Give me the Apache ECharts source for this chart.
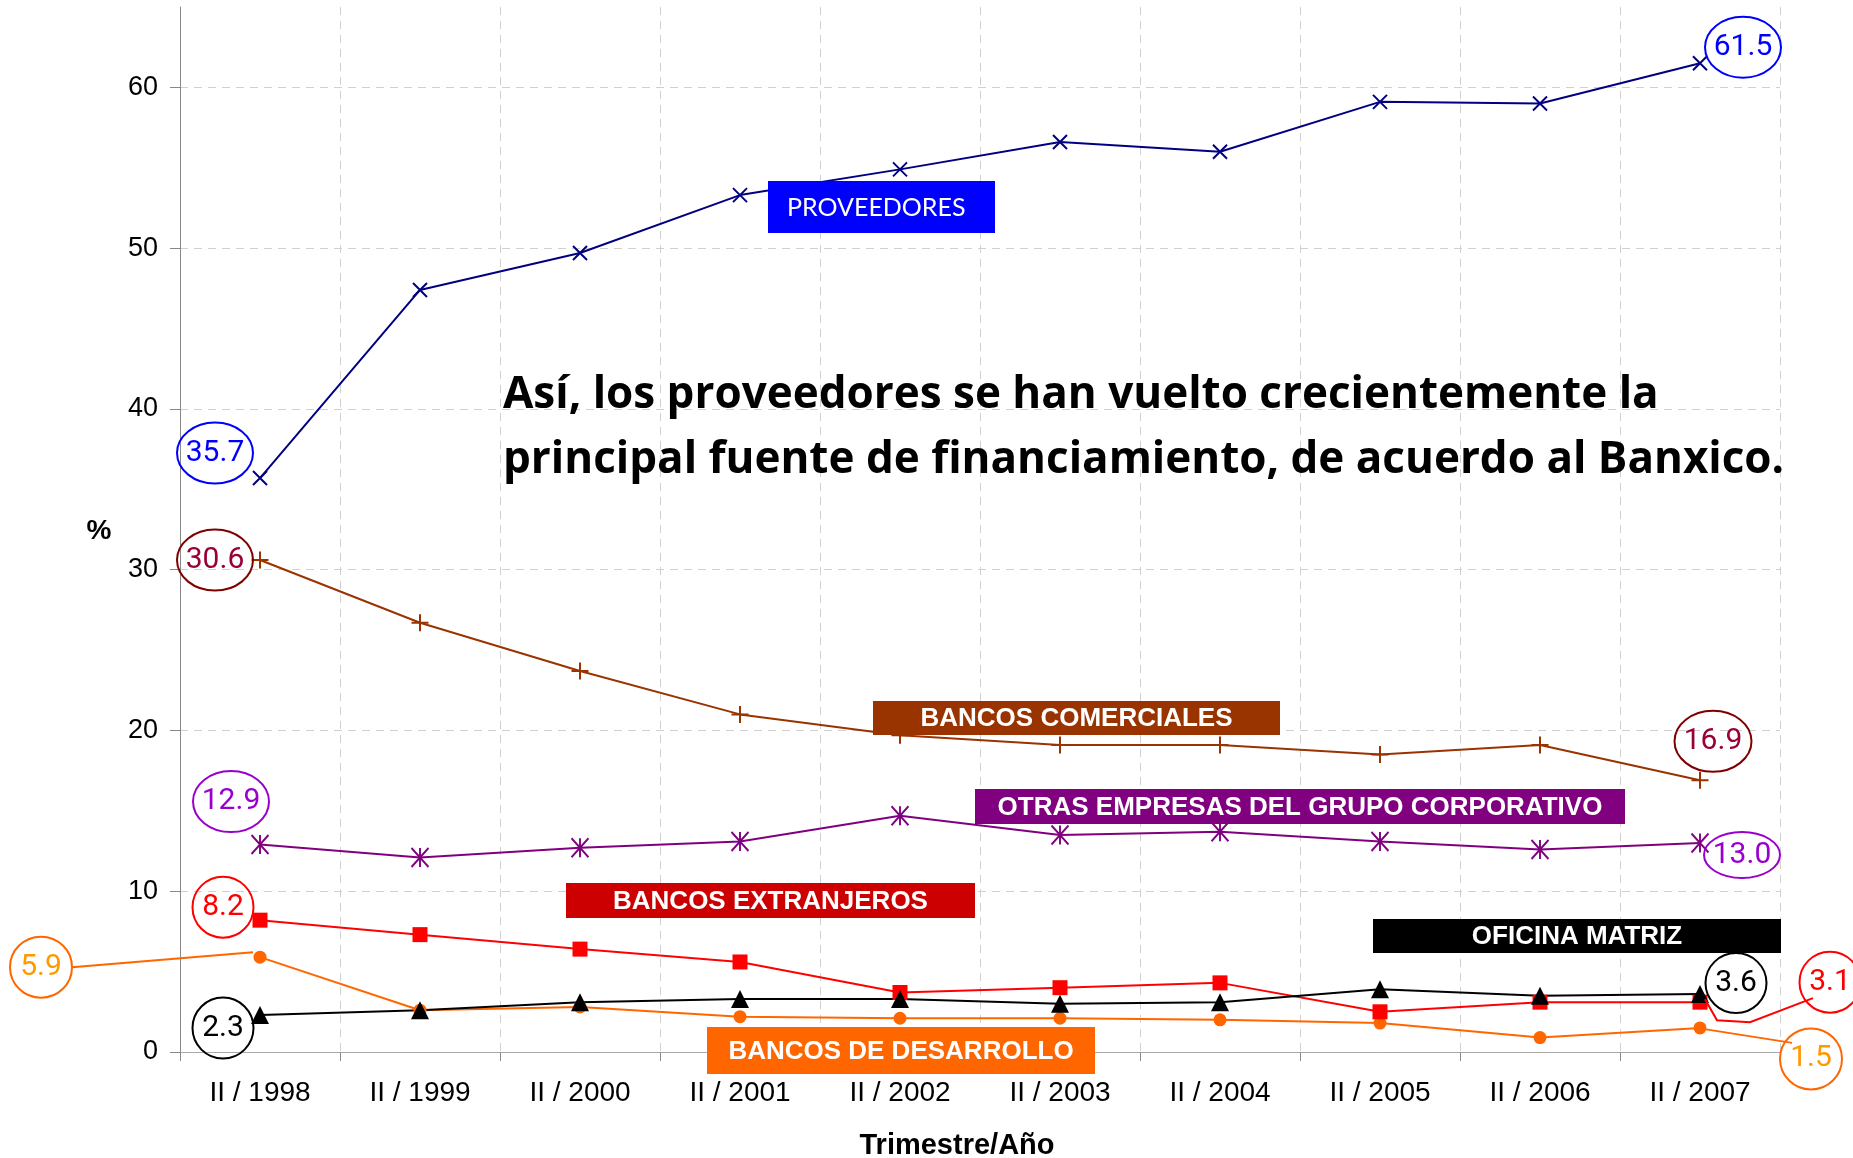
<!DOCTYPE html>
<html>
<head>
<meta charset="utf-8">
<script src="https://cdn.jsdelivr.net/npm/echarts@6/dist/echarts.min.js"></script>
<style>
html, body { margin: 0; padding: 0; background: #fff; }
#main { width: 1853px; height: 1158px; }
</style>
</head>
<body>
<div id="main"></div>
<script>
// datos (% del financiamiento total), lectura de la gráfica
const categories = ['II / 1998', 'II / 1999', 'II / 2000', 'II / 2001', 'II / 2002',
                    'II / 2003', 'II / 2004', 'II / 2005', 'II / 2006', 'II / 2007'];
const proveedores       = [35.7, 47.4, 49.7, 53.3, 54.9, 56.6, 56.0, 59.1, 59.0, 61.5];
const bancosComerciales = [30.6, 26.7, 23.7, 21.0, 19.7, 19.1, 19.1, 18.5, 19.1, 16.9];
const otrasEmpresas     = [12.9, 12.1, 12.7, 13.1, 14.7, 13.5, 13.7, 13.1, 12.6, 13.0];
const bancosExtranjeros = [8.2, 7.3, 6.4, 5.6, 3.7, 4.0, 4.3, 2.5, 3.1, 3.1];
const oficinaMatriz     = [2.3, 2.6, 3.1, 3.3, 3.3, 3.0, 3.1, 3.9, 3.5, 3.6];
const bancosDesarrollo  = [5.9, 2.6, 2.8, 2.2, 2.1, 2.1, 2.0, 1.8, 0.9, 1.5];
const yTicks = [0, 10, 20, 30, 40, 50, 60];

const chart = echarts.init(document.getElementById('main'));

const LINE_SYM = {
  x: 'path://M0,0L10,10M10,0L0,10',
  plus: 'path://M6,0L6,12M0,6L12,6',
  star: 'path://M0,0L10,12M10,0L0,12M5,0L5,12'
};

function serie(name, data, color, symbol, size, stroked) {
  return {
    name: name,
    type: 'line',
    data: data,
    symbol: symbol,
    symbolSize: size,
    lineStyle: { color: color, width: 2 },
    itemStyle: stroked
      ? { color: 'rgba(0,0,0,0)', borderColor: color, borderWidth: 2 }
      : { color: color },
    emphasis: { disabled: true }
  };
}

const gridColors = ['#d0d0d0', '#d0d0d0', '#d0d0d0', '#d0d0d0', '#d0d0d0', '#d0d0d0', '#d0d0d0', 'rgba(0,0,0,0)'];

chart.setOption({
  animation: false,
  backgroundColor: '#fff',
  grid: { left: 180, right: 73, top: 7, bottom: 106 },
  xAxis: {
    type: 'category',
    data: categories,
    boundaryGap: true,
    axisLine: { lineStyle: { color: '#aaa', width: 1 } },
    axisTick: { show: true, length: 9, lineStyle: { color: '#888' } },
    axisLabel: { color: '#000', fontSize: 28, fontFamily: 'Liberation Sans', margin: 27 },
    splitLine: { show: true, lineStyle: { color: '#d0d0d0', type: [8, 6], width: 1 } }
  },
  yAxis: {
    type: 'value',
    min: 0,
    max: 65,
    interval: 10,
    axisLine: { show: true, lineStyle: { color: '#888', width: 1 } },
    axisTick: { show: true, length: 10, lineStyle: { color: '#888' }, customValues: yTicks },
    axisLabel: { color: '#000', fontSize: 27, fontFamily: 'Liberation Sans', margin: 22, customValues: yTicks },
    splitLine: { show: true, lineStyle: { color: gridColors, type: [8, 6], width: 1 } }
  },
  series: [
    serie('PROVEEDORES', proveedores, '#000080', LINE_SYM.x, 14, true),
    serie('BANCOS COMERCIALES', bancosComerciales, '#993300', LINE_SYM.plus, 17, true),
    serie('OTRAS EMPRESAS DEL GRUPO CORPORATIVO', otrasEmpresas, '#800080', LINE_SYM.star, [17, 19], true),
    serie('BANCOS DE DESARROLLO', bancosDesarrollo, '#FF6600', 'circle', 13, false),
    serie('BANCOS EXTRANJEROS', bancosExtranjeros, '#FF0000', 'rect', 15, false),
    serie('OFICINA MATRIZ', oficinaMatriz, '#000000', 'triangle', 18, false)
  ]
});

// etiquetas de color
const boxes = [
  { text: 'PROVEEDORES', x: 768, y: 181, w: 227, h: 52, fill: '#0000FF', font: 'normal 25px Lato', left: 19 },
  { text: 'BANCOS COMERCIALES', x: 873, y: 701, w: 407, h: 34, fill: '#993300' },
  { text: 'OTRAS EMPRESAS DEL GRUPO CORPORATIVO', x: 975, y: 789, w: 650, h: 35, fill: '#800080' },
  { text: 'BANCOS EXTRANJEROS', x: 566, y: 883, w: 409, h: 35, fill: '#CC0000' },
  { text: 'OFICINA MATRIZ', x: 1373, y: 919, w: 408, h: 34, fill: '#000000' },
  { text: 'BANCOS DE DESARROLLO', x: 707, y: 1027, w: 388, h: 47, fill: '#FF6600' }
];

// valores encerrados en elipses (dx, dy respecto al punto)
const seriesData = [proveedores, bancosComerciales, otrasEmpresas, bancosDesarrollo, bancosExtranjeros, oficinaMatriz];
const callouts = [
  { s: 0, i: 0, dx: -45, dy: -25, w: 76, h: 61, stroke: '#0000FF', color: '#0000FF' },
  { s: 0, i: 9, dx: 43, dy: -16, w: 76, h: 61, stroke: '#0000FF', color: '#0000FF' },
  { s: 1, i: 0, dx: -45, dy: 0, w: 76, h: 61, stroke: '#800000', color: '#990033' },
  { s: 1, i: 9, dx: 13, dy: -39, w: 77, h: 61, stroke: '#800000', color: '#990033' },
  { s: 2, i: 0, dx: -29, dy: -43, w: 76, h: 61, stroke: '#9900CC', color: '#9900CC' },
  { s: 2, i: 9, dx: 42, dy: 12, w: 76, h: 46, stroke: '#9900CC', color: '#9900CC' },
  { s: 4, i: 0, dx: -37, dy: -13, w: 61, h: 61, stroke: '#FF0000', color: '#FF0000' },
  { s: 4, i: 9, dx: 130, dy: -20, w: 61, h: 61, stroke: '#FF0000', color: '#FF0000',
    leader: [[5, -3], [17, 18], [50, 20], [113, -4]] },
  { s: 5, i: 0, dx: -37, dy: 13, w: 61, h: 61, stroke: '#000000', color: '#000000' },
  { s: 5, i: 9, dx: 36, dy: -11, w: 61, h: 60, stroke: '#000000', color: '#000000' },
  { s: 3, i: 0, dx: -219, dy: 10, w: 62, h: 61, stroke: '#FF6600', color: '#FF9900',
    leader: [[-188, 10], [-7, -5]] },
  { s: 3, i: 9, dx: 111, dy: 31, w: 62, h: 61, stroke: '#FF6600', color: '#FF9900',
    leader: [[3, 1], [92, 15]] }
];

const graphic = [];

callouts.forEach(function (c) {
  const v = seriesData[c.s][c.i];
  const p = chart.convertToPixel({ xAxisIndex: 0, yAxisIndex: 0 }, [categories[c.i], v]);
  const cx = p[0] + c.dx, cy = p[1] + c.dy;
  if (c.leader) {
    graphic.push({
      type: 'polyline', z: 50,
      shape: { points: c.leader.map(function (d) { return [p[0] + d[0], p[1] + d[1]]; }) },
      style: { stroke: c.stroke, lineWidth: 2, fill: null }
    });
  }
  graphic.push({
    type: 'ellipse', z: 50,
    shape: { cx: cx, cy: cy, rx: c.w / 2, ry: c.h / 2 },
    style: { fill: null, stroke: c.stroke, lineWidth: 2 }
  });
  graphic.push({
    type: 'text', z: 51, x: cx, y: cy,
    style: { text: v.toFixed(1), fill: c.color, font: 'normal 30px Roboto', align: 'center', verticalAlign: 'middle' }
  });
});

boxes.forEach(function (b) {
  graphic.push({
    type: 'rect', z: 60,
    shape: { x: b.x, y: b.y, width: b.w, height: b.h },
    style: { fill: b.fill }
  });
  graphic.push({
    type: 'text', z: 61,
    x: b.left ? b.x + b.left : b.x + b.w / 2,
    y: b.y + b.h / 2 + 1,
    style: {
      text: b.text, fill: '#fff',
      font: b.font || 'bold 26px "Liberation Sans"',
      align: b.left ? 'left' : 'center', verticalAlign: 'middle'
    }
  });
});

// texto principal y títulos de ejes
graphic.push({
  type: 'text', z: 70, x: 503, y: 363,
  style: {
    text: 'Así, los proveedores se han vuelto crecientemente la\nprincipal fuente de financiamiento, de acuerdo al Banxico.',
    fill: '#000', font: 'bold 44px "Open Sans"', lineHeight: 65, align: 'left', verticalAlign: 'top'
  }
});
graphic.push({
  type: 'text', z: 70, x: 99, y: 531,
  style: { text: '%', fill: '#000', font: 'bold 28px "Liberation Sans"', align: 'center', verticalAlign: 'middle' }
});
graphic.push({
  type: 'text', z: 70, x: 957, y: 1146,
  style: { text: 'Trimestre/Año', fill: '#000', font: 'bold 29px "Liberation Sans"', align: 'center', verticalAlign: 'middle' }
});

chart.setOption({ graphic: graphic });
</script>
</body>
</html>
